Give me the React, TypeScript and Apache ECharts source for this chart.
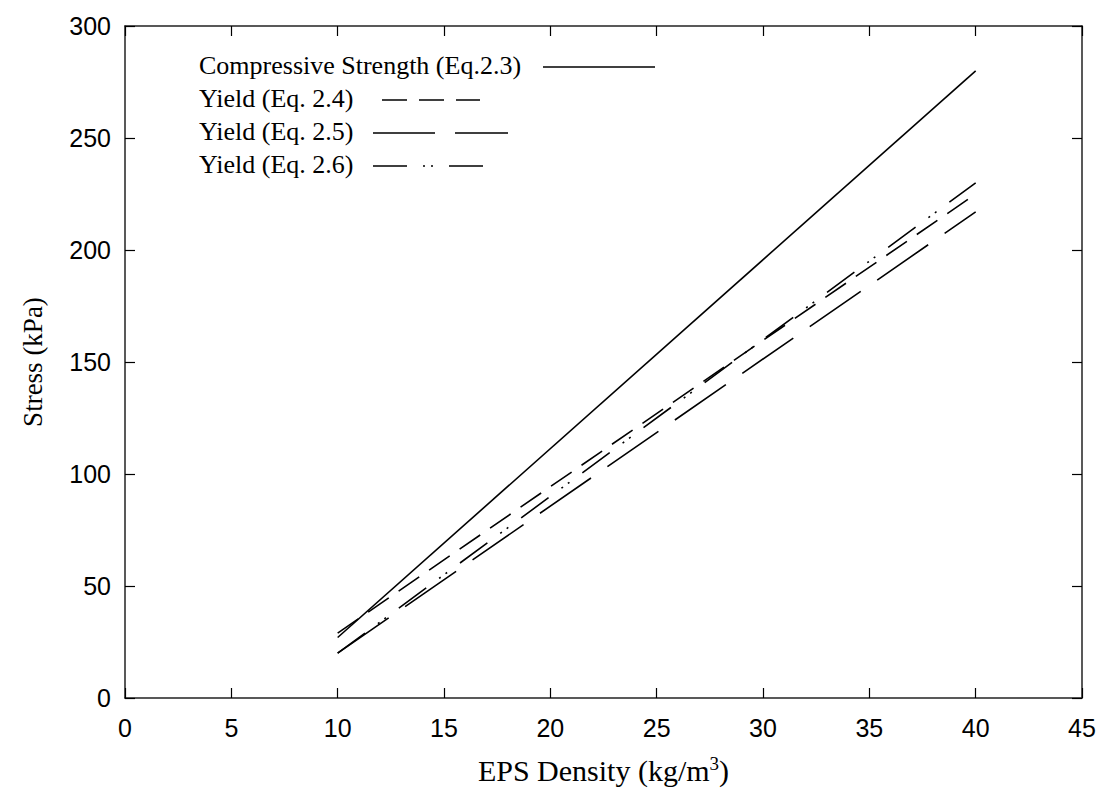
import React, { useEffect, useRef } from "react";
import * as echarts from "echarts";

// EPS density endpoints (kg/m^3)
const density = [10, 40];
// Stress values (kPa) read at the endpoints
const compressiveStrength = [27, 280];
const yieldEq24 = [29, 225];
const yieldEq25 = [20, 217];
const yieldEq26 = [20, 230];

const seriesNames = [
  "Compressive Strength (Eq.2.3)",
  "Yield (Eq. 2.4)",
  "Yield (Eq. 2.5)",
  "Yield (Eq. 2.6)",
];

const xMin = 0;
const xMax = 45;
const xStep = 5;
const yMin = 0;
const yMax = 300;
const yStep = 50;

const dashSolid: number[] | null = null;
const dashMedium = [25, 12];
const dashLong = [62, 20];
const dashDot = [34, 16, 2, 6, 2, 16];

const SERIF = "'Liberation Serif', 'Times New Roman', serif";
const SANS = "'Liberation Sans', Arial, sans-serif";

function pairs(xs: number[], ys: number[]) {
  return xs.map((x, i) => [x, ys[i]]);
}

export default function App() {
  const ref = useRef<HTMLDivElement>(null);

  useEffect(() => {
    if (!ref.current) return;
    const chart = echarts.init(ref.current, null, { renderer: "svg" });

    const seriesData = [compressiveStrength, yieldEq24, yieldEq25, yieldEq26];
    const dashes: any[] = ["solid", dashMedium, dashLong, dashDot];

    const axisLineStyle = { color: "#222", width: 1.5 };
    const tickStyle = { color: "#000", width: 1.2 };

    const legendRows = [
      { y: 67, x0: 543, x1: 655, dash: dashSolid },
      { y: 100, x0: 382, x1: 480, dash: dashMedium },
      { y: 133, x0: 373, x1: 508, dash: dashLong },
      { y: 166, x0: 373, x1: 487, dash: dashDot },
    ];

    const graphic: any[] = [];
    legendRows.forEach((r, i) => {
      graphic.push({
        type: "text",
        left: 199,
        top: r.y - 15,
        style: {
          text: seriesNames[i],
          font: `26px ${SERIF}`,
          fill: "#000",
        },
      });
      graphic.push({
        type: "line",
        shape: { x1: r.x0, y1: r.y, x2: r.x1, y2: r.y },
        style: {
          stroke: "#000",
          lineWidth: 1.6,
          lineDash: r.dash ? r.dash : null,
        },
      });
    });

    chart.setOption({
      animation: false,
      backgroundColor: "#fff",
      grid: { left: 125, right: 23, top: 26, bottom: 110, containLabel: false },
      xAxis: [
        {
          type: "value",
          position: "bottom",
          min: xMin,
          max: xMax,
          interval: xStep,
          axisLine: { show: true, onZero: false, lineStyle: axisLineStyle },
          axisTick: { show: true, inside: true, length: 10, lineStyle: tickStyle },
          axisLabel: { margin: 17, fontFamily: SANS, fontSize: 25, color: "#000" },
          splitLine: { show: false },
          name: "EPS Density (kg/m{sup|3})",
          nameLocation: "middle",
          nameGap: 56,
          nameTextStyle: {
            fontFamily: SERIF,
            fontSize: 30,
            color: "#000",
            rich: {
              sup: {
                fontFamily: SERIF,
                fontSize: 19,
                color: "#000",
                verticalAlign: "top",
                padding: [0, 0, 14, 0],
              },
            },
          },
        },
        {
          type: "value",
          position: "top",
          min: xMin,
          max: xMax,
          interval: xStep,
          axisLine: { show: true, onZero: false, lineStyle: axisLineStyle },
          axisTick: { show: true, inside: true, length: 10, lineStyle: tickStyle },
          axisLabel: { show: false },
          splitLine: { show: false },
        },
      ],
      yAxis: [
        {
          type: "value",
          position: "left",
          min: yMin,
          max: yMax,
          interval: yStep,
          axisLine: { show: true, onZero: false, lineStyle: axisLineStyle },
          axisTick: { show: true, inside: true, length: 10, lineStyle: tickStyle },
          axisLabel: { margin: 14, fontFamily: SANS, fontSize: 25, color: "#000" },
          splitLine: { show: false },
          name: "Stress (kPa)",
          nameLocation: "middle",
          nameGap: 79,
          nameRotate: 90,
          nameTextStyle: { fontFamily: SERIF, fontSize: 27, color: "#000" },
        },
        {
          type: "value",
          position: "right",
          min: yMin,
          max: yMax,
          interval: yStep,
          axisLine: { show: true, onZero: false, lineStyle: axisLineStyle },
          axisTick: { show: true, inside: true, length: 10, lineStyle: tickStyle },
          axisLabel: { show: false },
          splitLine: { show: false },
        },
      ],
      series: seriesData.map((vals, i) => ({
        name: seriesNames[i],
        type: "line",
        xAxisIndex: 0,
        yAxisIndex: 0,
        data: pairs(density, vals),
        symbol: "none",
        showSymbol: false,
        lineStyle: { color: "#000", width: 1.6, type: dashes[i] },
        itemStyle: { color: "#000" },
      })),
      graphic,
    });

    return () => {
      chart.dispose();
    };
  }, []);

  return (
    <div
      ref={ref}
      style={{ position: "absolute", left: 0, top: 0, width: 1105, height: 808 }}
    />
  );
}
